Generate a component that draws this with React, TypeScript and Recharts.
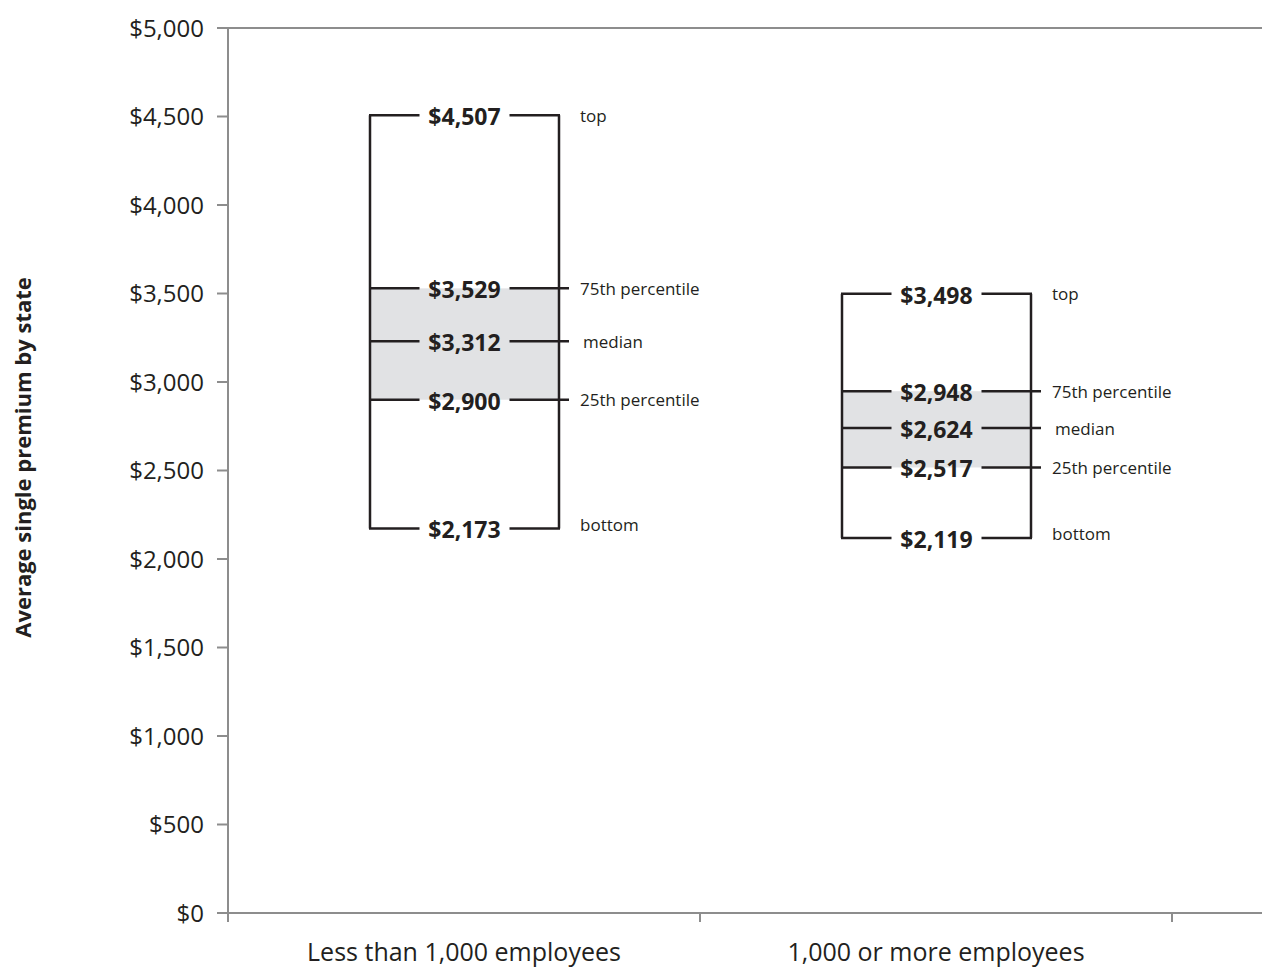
import { Bar, ComposedChart, ReferenceLine, XAxis, YAxis } from "recharts"

const groups = ["Less than 1,000 employees", "1,000 or more employees"]
const bottomValues = [2173, 2119]
const q1Values = [2900, 2517]
const medianValues = [3312, 2624]
const q3Values = [3529, 2948]
const topValues = [4507, 3498]
// the original draws the median rule mid-box, not at its value; these are the levels
const medianRuleLevels = [3230, 2740]
const levelNames = ["top", "75th percentile", "median", "25th percentile", "bottom"]
const yTicks = [0, 500, 1000, 1500, 2000, 2500, 3000, 3500, 4000, 4500, 5000]

// third, empty band only exists so the plot runs off the right edge like the original
const data = [
  ...groups.map((group, i) => ({
    group,
    range: [bottomValues[i], topValues[i]],
    levels: [topValues[i], q3Values[i], medianRuleLevels[i], q1Values[i], bottomValues[i]],
    labels: [topValues[i], q3Values[i], medianValues[i], q1Values[i], bottomValues[i]],
  })),
  { group: "", range: null, levels: [] as number[], labels: [] as number[] },
]

const INK = "#231f20"
const AXIS = "#8d8d8d"
const FONT = "'Open Sans', sans-serif"

const money = (v: number) => `$${v.toLocaleString("en-US")}`

function BoxShape(props: any) {
  const { x, y, width, height, payload } = props
  if (!payload || payload.range == null) return null
  const [lo, hi] = payload.range
  const py = (v: number) => y + (height * (hi - v)) / (hi - lo)
  const cx = x + width / 2
  const right = x + width
  const gap = 45
  const [top, q3, , q1, bottom] = payload.levels

  return (
    <g>
      <rect x={x} y={py(q3)} width={width} height={py(q1) - py(q3)} fill="#e1e2e4" />
      <line x1={x} x2={x} y1={py(top)} y2={py(bottom)} stroke={INK} strokeWidth={2.5} />
      <line x1={right} x2={right} y1={py(top)} y2={py(bottom)} stroke={INK} strokeWidth={2.5} />
      {payload.levels.map((v: number, i: number) => {
        const ly = py(v)
        const inner = i > 0 && i < 4
        return (
          <g key={i}>
            <line x1={x - 1} x2={cx - gap} y1={ly} y2={ly} stroke={INK} strokeWidth={2.5} />
            <line x1={cx + gap} x2={right + (inner ? 10 : 1)} y1={ly} y2={ly} stroke={INK} strokeWidth={2.5} />
            <text
              x={cx}
              y={ly + 1}
              textAnchor="middle"
              dominantBaseline="central"
              fontSize={23}
              fontWeight={700}
              fill={INK}
              fontFamily={FONT}
            >
              {money(payload.labels[i])}
            </text>
            <text
              x={right + (i === 2 ? 24 : 21)}
              y={ly + (i === 4 ? -4 : 0)}
              dominantBaseline="central"
              fontSize={17}
              fill={INK}
              fontFamily={FONT}
            >
              {levelNames[i]}
            </text>
          </g>
        )
      })}
    </g>
  )
}

// tick mark sits on the band edge, label in the band centre
function CategoryTick({ x, y, payload }: any) {
  const half = payload.offset ?? 236
  return (
    <g>
      <line x1={x - half} x2={x - half} y1={y} y2={y + 9} stroke={AXIS} strokeWidth={2} />
      <text x={x} y={y + 30} dy="0.71em" textAnchor="middle" fontSize={25} fill={INK} fontFamily={FONT}>
        {payload.value}
      </text>
    </g>
  )
}

export default function App() {
  return (
    <div
      style={{
        position: "absolute",
        left: 0,
        top: 0,
        width: 1262,
        height: 969,
        overflow: "hidden",
        background: "#fff",
      }}
    >
      <ComposedChart
        width={1644}
        height={969}
        data={data}
        margin={{ top: 28, right: 0, left: 0, bottom: 0 }}
        style={{ fontFamily: FONT }}
      >
        <XAxis
          dataKey="group"
          type="category"
          height={56}
          axisLine={{ stroke: AXIS, strokeWidth: 2 }}
          tickLine={false}
          tickSize={0}
          tickMargin={0}
          interval={0}
          tick={<CategoryTick />}
        />
        <YAxis
          type="number"
          domain={[0, 5000]}
          ticks={yTicks}
          interval={0}
          width={228}
          tickSize={11}
          tickMargin={13}
          tickFormatter={money}
          axisLine={{ stroke: AXIS, strokeWidth: 2 }}
          tickLine={{ stroke: AXIS, strokeWidth: 2 }}
          tick={{ fill: INK, fontSize: 24, fontFamily: FONT }}
          label={{
            content: ({ viewBox }: any) => {
              const lx = viewBox.x + 22
              const ly = viewBox.y + viewBox.height / 2 - 13
              return (
                <text
                  x={lx}
                  y={ly}
                  transform={`rotate(-90 ${lx} ${ly})`}
                  textAnchor="middle"
                  dominantBaseline="central"
                  fontSize={22}
                  fontWeight={700}
                  fill={INK}
                  fontFamily={FONT}
                >
                  Average single premium by state
                </text>
              )
            },
          }}
        />
        <ReferenceLine y={5000} stroke={AXIS} strokeWidth={2} />
        <Bar dataKey="range" barSize={189} shape={<BoxShape />} isAnimationActive={false} />
      </ComposedChart>
    </div>
  )
}
